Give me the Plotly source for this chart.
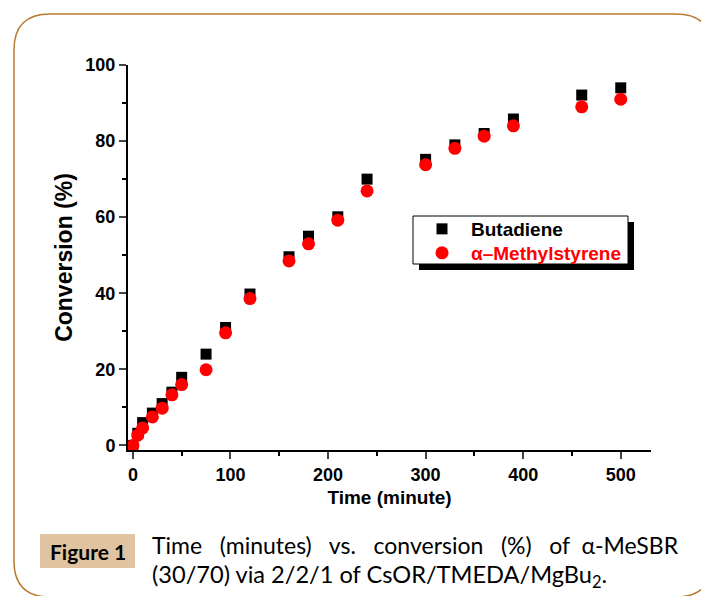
import plotly.graph_objects as go

# ---------------- data ----------------
time_min = [0, 5, 10, 20, 30, 40, 50, 75, 95, 120, 160, 180, 210, 240, 300, 330, 360, 390, 460, 500]
butadiene = [0, 3.2, 6.0, 8.5, 11.0, 14.0, 17.9, 24.0, 31.0, 39.8, 49.6, 55.0, 60.1, 70.0, 75.2, 79.0, 82.0, 85.8, 92.1, 94.0]
methylstyrene = [0, 2.7, 4.6, 7.5, 9.8, 13.3, 16.0, 19.9, 29.6, 38.6, 48.5, 53.0, 59.2, 66.9, 73.8, 78.1, 81.3, 84.0, 89.0, 91.0]

x_tickvals = [0, 100, 200, 300, 400, 500]
y_tickvals = [0, 20, 40, 60, 80, 100]

series_names = ["Butadiene", "α–Methylstyrene"]
x_title = "Time (minute)"
y_title = "Conversion (%)"
caption_label = "Figure 1"
caption_line1 = "Time   (minutes)   vs.   conversion   (%)   of  α-MeSBR"
caption_line2 = "(30/70) via 2/2/1 of CsOR/TMEDA/MgBu<sub>2</sub>."

# ---------------- layout geometry ----------------
W, H = 701, 596
ML, MR, MT, MB = 128, 50, 65, 146
PW, PH = W - ML - MR, H - MT - MB


def px(xp):
    return (xp - ML) / PW


def py(yp):
    return 1 - (yp - MT) / PH


AX_FONT = "Liberation Sans, Arial, sans-serif"
CAP_FONT = "Lato, Open Sans, sans-serif"

fig = go.Figure()
fig.add_trace(go.Scatter(
    x=time_min, y=butadiene, mode="markers", name=series_names[0], legend="legend",
    marker=dict(symbol="square", size=11, color="black", line=dict(width=0)),
))
fig.add_trace(go.Scatter(
    x=time_min, y=methylstyrene, mode="markers", legend="legend2",
    name="<span style='color:red'>" + series_names[1] + "</span>",
    marker=dict(symbol="circle", size=13, color="red", line=dict(width=0)),
))

xr = [-5, 531]
yr = [-1.2, 100]

legend_common = dict(
    xanchor="left", yanchor="middle", bgcolor="rgba(0,0,0,0)", borderwidth=0,
    font=dict(size=19, weight="bold", family=AX_FONT, color="black"),
    itemwidth=48, tracegroupgap=0,
)

fig.update_layout(
    width=W, height=H,
    margin=dict(l=ML, r=MR, t=MT, b=MB, autoexpand=False),
    paper_bgcolor="white", plot_bgcolor="white",
    font=dict(family=AX_FONT, color="black"),
    xaxis=dict(
        range=xr, tickvals=x_tickvals, ticks="outside", ticklen=7, tickwidth=2,
        minor=dict(dtick=50, tick0=0, ticks="outside", ticklen=4, tickwidth=2, tickcolor="black"),
        showline=True, linewidth=2, linecolor="black", showgrid=False, zeroline=False,
        tickfont=dict(size=18, weight="bold", family=AX_FONT),
        title=dict(text=x_title, font=dict(size=19, weight="bold", family=AX_FONT), standoff=7),
        automargin=False,
    ),
    yaxis=dict(
        range=yr, tickvals=y_tickvals, ticks="outside", ticklen=7, tickwidth=2,
        minor=dict(dtick=10, tick0=0, ticks="outside", ticklen=4, tickwidth=2, tickcolor="black"),
        showline=True, linewidth=2, linecolor="black", showgrid=False, zeroline=False,
        tickfont=dict(size=18, weight="bold", family=AX_FONT),
        title=dict(text=y_title, font=dict(size=23, weight="bold", family=AX_FONT), standoff=6),
        automargin=False,
    ),
    xaxis2=dict(
        overlaying="x", side="top", range=xr, dtick=50, tick0=0, ticks="inside", ticklen=4,
        tickwidth=1.5, showticklabels=False, showline=True, linewidth=1.5, linecolor="black",
        showgrid=False, zeroline=False, anchor="y2",
    ),
    yaxis2=dict(
        overlaying="y", side="right", range=yr, dtick=10, tick0=0, ticks="inside", ticklen=4,
        tickwidth=1.5, showticklabels=False, showline=True, linewidth=1.5, linecolor="black",
        showgrid=False, zeroline=False, anchor="x2",
    ),
    legend=dict(x=px(413), y=py(229), **legend_common),
    legend2=dict(x=px(413), y=py(253), **legend_common),
    showlegend=True,
)

# legend box with drop shadow
fig.add_shape(type="rect", xref="paper", yref="paper", layer="above",
              x0=px(419), x1=px(634), y0=py(270), y1=py(222),
              fillcolor="black", line=dict(width=0))
fig.add_shape(type="rect", xref="paper", yref="paper", layer="above",
              x0=px(413), x1=px(628), y0=py(264), y1=py(216),
              fillcolor="white", line=dict(color="black", width=1))


# rounded frame
def rounded_path(x0, y0, x1, y1, r):
    pts = [
        ("M", x0 + r, y0), ("L", x1 - r, y0), ("Q", x1, y0, x1, y0 + r),
        ("L", x1, y1 - r), ("Q", x1, y1, x1 - r, y1), ("L", x0 + r, y1),
        ("Q", x0, y1, x0, y1 - r), ("L", x0, y0 + r), ("Q", x0, y0, x0 + r, y0),
    ]
    out = []
    for p in pts:
        cmd = p[0]
        coords = p[1:]
        s = " ".join(f"{px(coords[i]):.5f},{py(coords[i + 1]):.5f}" for i in range(0, len(coords), 2))
        out.append(cmd + s)
    return " ".join(out) + " Z"


fig.add_shape(type="path", xref="paper", yref="paper", layer="below",
              path=rounded_path(14, 14, 712, 597, 36),
              line=dict(color="#B8792E", width=1.5), fillcolor="rgba(0,0,0,0)")

# caption label box
fig.add_shape(type="rect", xref="paper", yref="paper", layer="below",
              x0=px(40), x1=px(135), y0=py(568), y1=py(534),
              fillcolor="#E0C4A2", line=dict(width=0))
fig.add_annotation(xref="paper", yref="paper", x=px(87.5), y=py(551), xanchor="center", yanchor="middle",
                   text=caption_label, showarrow=False,
                   font=dict(family=CAP_FONT, size=21, weight="bold", color="black"))
fig.add_annotation(xref="paper", yref="paper", x=px(150), y=py(545), xanchor="left", yanchor="middle",
                   text=caption_line1, showarrow=False,
                   font=dict(family=CAP_FONT, size=23, color="black"))
fig.add_annotation(xref="paper", yref="paper", x=px(150), y=py(576), xanchor="left", yanchor="middle",
                   text=caption_line2, showarrow=False,
                   font=dict(family=CAP_FONT, size=23.6, color="black"))

fig.write_html(
    "out.html",
    config={"displayModeBar": False},
    post_script="document.body.style.margin='0px';document.body.style.overflow='hidden';",
)
